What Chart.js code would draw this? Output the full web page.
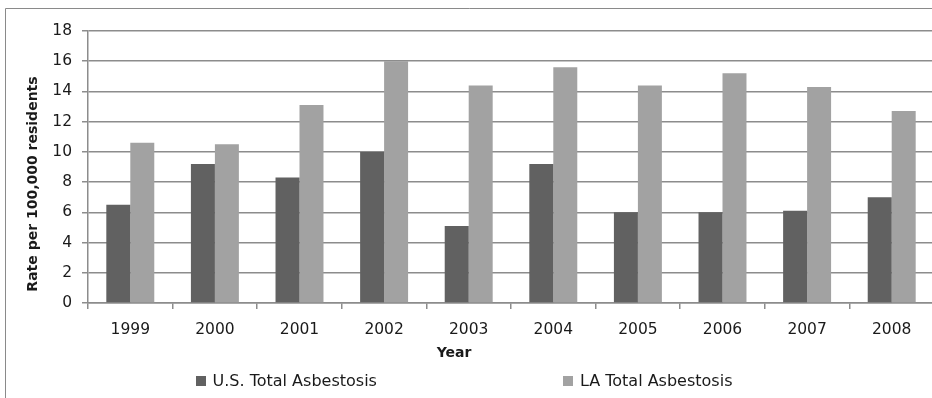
<!DOCTYPE html>
<html>
<head>
<meta charset="utf-8">
<script src="https://cdn.jsdelivr.net/npm/chart.js@4"></script>
<style>
  html, body { margin: 0; padding: 0; background: #ffffff; overflow: hidden; }
  #wrap { position: relative; width: 934px; height: 398px; }
</style>
</head>
<body>
<div id="wrap"><canvas id="chart"></canvas></div>
<script>
// Asbestosis death rates, U.S. vs. Louisiana
const years = ['1999', '2000', '2001', '2002', '2003', '2004', '2005', '2006', '2007', '2008'];
const usTotal = [6.5, 9.2, 8.3, 10.0, 5.1, 9.2, 6.0, 6.0, 6.1, 7.0];
const laTotal = [10.6, 10.5, 13.1, 16.0, 14.4, 15.6, 14.4, 15.2, 14.3, 12.7];
const seriesNames = ['U.S. Total Asbestosis', 'LA Total Asbestosis'];
const yAxisTitle = 'Rate per 100,000 residents';
const xAxisTitle = 'Year';
const yMin = 0, yMax = 18, yStep = 2;

const FONT = '"DejaVu Sans", Verdana, sans-serif';
const GRID = '#8c8c8c';
const TEXT = '#1a1a1a';

// Frame, axis titles and legend drawn on the canvas
const decorations = {
  id: 'decorations',
  beforeDraw(chart) {
    const ctx = chart.ctx;
    ctx.save();
    ctx.strokeStyle = '#8a8a8a';
    ctx.lineWidth = 1;
    ctx.beginPath();
    ctx.moveTo(5.5, chart.height);
    ctx.lineTo(5.5, 8.5);
    ctx.lineTo(chart.width, 8.5);
    ctx.stroke();
    ctx.restore();
  },
  afterDraw(chart, args, opts) {
    const ctx = chart.ctx;
    ctx.save();
    ctx.fillStyle = TEXT;

    // y-axis title
    ctx.font = 'bold 14px ' + FONT;
    ctx.textAlign = 'center';
    ctx.textBaseline = 'middle';
    ctx.translate(opts.yTitleX, opts.yTitleY);
    ctx.rotate(-Math.PI / 2);
    ctx.fillText(yAxisTitle, 0, 0);
    ctx.setTransform(1, 0, 0, 1, 0, 0);

    // x-axis title
    ctx.fillText(xAxisTitle, opts.xTitleX, opts.xTitleY);

    // legend
    ctx.font = '16px ' + FONT;
    ctx.textAlign = 'left';
    const items = chart.data.datasets.map(ds => ({
      text: ds.label, color: ds.backgroundColor,
      w: 10 + 7 + ctx.measureText(ds.label).width
    }));
    const total = items.reduce((s, it) => s + it.w, 0) + opts.legendGap * (items.length - 1);
    let x = opts.legendCenter - total / 2;
    const y = opts.legendY;
    items.forEach(it => {
      ctx.fillStyle = it.color;
      ctx.fillRect(Math.round(x), y - 5, 10, 10);
      ctx.fillStyle = TEXT;
      ctx.fillText(it.text, x + 17, y + 1);
      x += it.w + opts.legendGap;
    });
    ctx.restore();
  }
};

new Chart(document.getElementById('chart'), {
  type: 'bar',
  data: {
    labels: years,
    datasets: [
      { label: seriesNames[0], data: usTotal, backgroundColor: '#616161' },
      { label: seriesNames[1], data: laTotal, backgroundColor: '#a2a2a2' }
    ]
  },
  options: {
    responsive: true,
    maintainAspectRatio: false,
    devicePixelRatio: 1,
    animation: false,
    categoryPercentage: 0.567,
    barPercentage: 1,
    layout: { padding: { top: 31, left: 0, right: 0, bottom: 0 } },
    plugins: {
      legend: { display: false },
      tooltip: { enabled: false },
      decorations: {
        yTitleX: 33, yTitleY: 184,
        xTitleX: 454, xTitleY: 353,
        legendCenter: 464, legendGap: 186, legendY: 381
      }
    },
    scales: {
      x: {
        offset: true,
        grid: { display: true, drawOnChartArea: false, drawTicks: true, tickLength: 6, color: GRID, lineWidth: 1.5, offset: true },
        border: { display: true, color: GRID, width: 1.5 },
        ticks: { color: TEXT, font: { family: FONT, size: 15.5 }, padding: 12, maxRotation: 0, autoSkip: false },
        afterFit(scale) { scale.height = 95; }
      },
      y: {
        min: yMin, max: yMax,
        grid: { color: GRID, lineWidth: 1.5, drawTicks: true, tickLength: 6 },
        border: { display: true, color: GRID, width: 1.5 },
        ticks: { stepSize: yStep, color: TEXT, font: { family: FONT, size: 15.5 }, padding: 10 },
        afterFit(scale) { scale.width = 88; }
      }
    }
  },
  plugins: [decorations]
});
</script>
</body>
</html>
